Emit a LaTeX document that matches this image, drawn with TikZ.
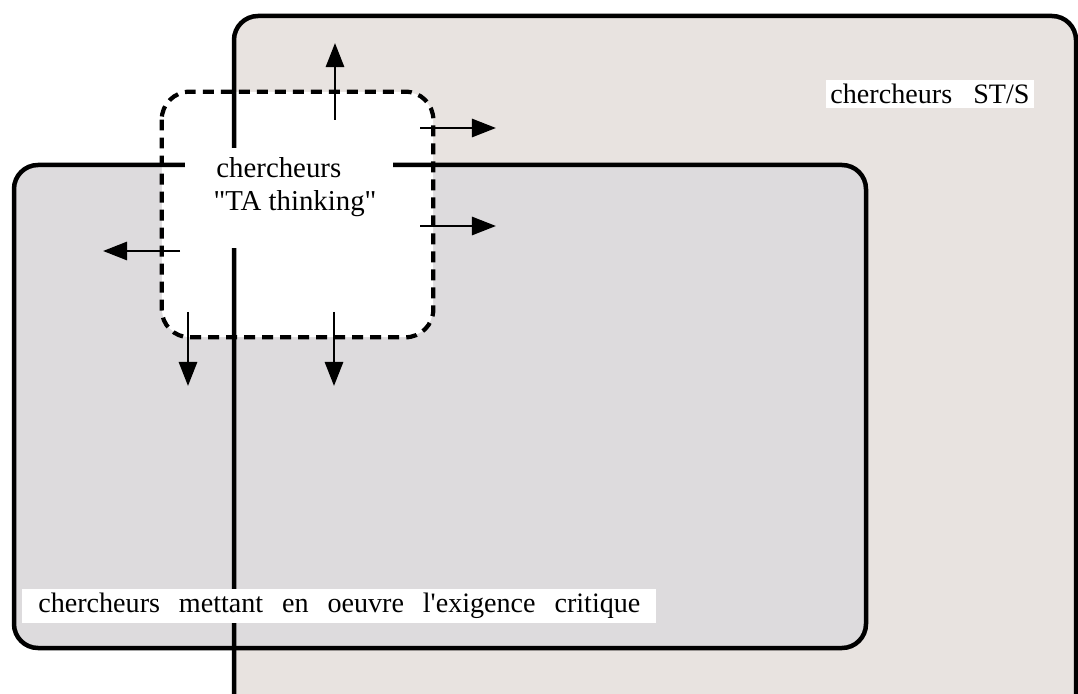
\documentclass[tikz,border=0pt]{standalone}
\usepackage{fontspec}
\setmainfont{Liberation Serif}
\usetikzlibrary{arrows.meta}

\definecolor{stsfill}{RGB}{232,227,224}
\definecolor{critfill}{RGB}{221,219,221}

\tikzset{
    frameline/.style={line width=3.2pt,rounded corners=6mm},
    tadash/.style={line width=3pt,dash pattern=on 0.27cm off 0.18cm,rounded corners=7mm},
    tabox/.style={fill=white,draw=none,rounded corners=7mm,minimum width=6.775cm,minimum height=6.125cm,inner sep=0},
    labelbox/.style={fill=white,inner xsep=0.12cm,inner ysep=0.1cm,font=\fontsize{20}{24}\selectfont},
    pusharrow/.style={line width=2pt,-{Triangle[length=0.6cm,width=0.45cm]}}
}

\begin{document}
\begin{tikzpicture}[x=0.025cm,y=-0.025cm]
    \useasboundingbox (0,0) rectangle (1078,694);
    % fills of the two populations
    \fill[stsfill,rounded corners=6mm] (234,16) rectangle (1076,730);
    \fill[critfill,rounded corners=6mm] (14,165) rectangle (866,648);
    \node[tabox] (ta) at (297.5,214.5) {};
    % borders
    \draw[frameline] (234,16) rectangle (1076,730);
    \draw[frameline] (14,165) rectangle (866,648);
    \fill[white] (185,148) rectangle (393,248);
    \node[labelbox,fill=none,align=left,font=\fontsize{20.5}{23.4}\selectfont] (talabel) at (295,187)
        {\spaceskip=0.45em \hspace{0.1em}chercheurs\\\textquotedbl TA thinking\textquotedbl};
    \draw[tadash] (ta.north west) rectangle (ta.south east);
    \node[labelbox] (sts) at (930,94) {\spaceskip=0.75em chercheurs ST/S};
    \node[labelbox,anchor=west,inner xsep=0.4cm] (crit) at (22,606)
        {\spaceskip=0.67em chercheurs mettant en oeuvre l\textquotesingle exigence critique};
    % arrows leaving the TA box
    \coordinate (upstart) at (335,120);    \coordinate (upend) at (335,43);
    \coordinate (rastart) at (420,128);    \coordinate (raend) at (496,128);
    \coordinate (rbstart) at (420,226);    \coordinate (rbend) at (496,226);
    \coordinate (lstart) at (180,251);     \coordinate (lend) at (103,251);
    \coordinate (dastart) at (188,312);    \coordinate (daend) at (188,386);
    \coordinate (dbstart) at (334,312);    \coordinate (dbend) at (334,386);
    \draw[pusharrow] (upstart) -- (upend);
    \draw[pusharrow] (rastart) -- (raend);
    \draw[pusharrow] (rbstart) -- (rbend);
    \draw[pusharrow] (lstart) -- (lend);
    \draw[pusharrow] (dastart) -- (daend);
    \draw[pusharrow] (dbstart) -- (dbend);
\end{tikzpicture}
\end{document}
